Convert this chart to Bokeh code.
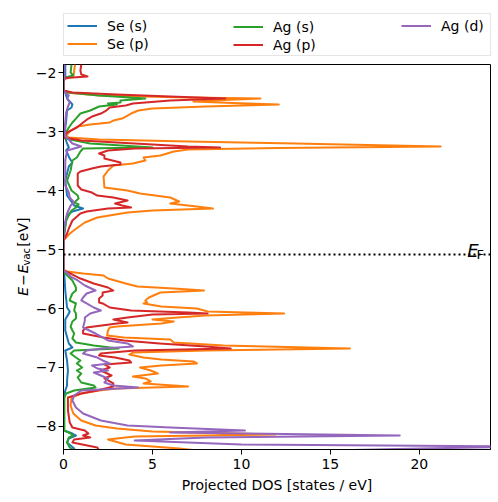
import math
from bokeh.plotting import figure
from bokeh.layouts import column, row
from bokeh.models import Range1d, Legend, LegendItem, Label, Span
from bokeh.embed import file_html
from bokeh.resources import INLINE

# ---- data: (energy [eV], projected DOS [states/eV]) ----
se_s = [(-1.864,0.1),(-2.102,0.1),(-2.136,0.0),(-2.305,0.0),(-2.339,0.1),(-2.441,0.2),(-2.508,0.4),
        (-2.542,0.5),(-2.593,0.45),(-2.644,0.2),(-2.814,0.15),(-3.068,0.05),(-3.203,0.2),(-3.271,0.3),
        (-3.322,0.15),(-3.458,0.35),(-3.525,0.5),(-3.593,0.3),(-3.831,0.1),(-4.085,0.2),(-4.169,0.4),
        (-4.254,0.6),(-4.305,1.1),(-4.356,0.5),(-4.424,0.2),(-4.593,0.1),(-4.763,0.02),(-4.847,0.0),
        (-5.356,0.0),(-5.441,0.05),(-5.695,0.1),(-5.983,0.2),(-6.051,0.35),(-6.085,0.3),(-6.186,0.1),
        (-6.373,0.1),(-6.593,0.3),(-6.661,0.5),(-6.712,0.1),(-6.881,0.2),(-7.051,0.25),(-7.220,0.2),
        (-7.305,0.2),(-7.390,0.1),(-7.508,0.03),(-8.068,0.02),(-8.119,0.5),(-8.153,0.7),(-8.203,0.3),
        (-8.271,0.2),(-8.373,0.6),(-8.407,0.5)]

se_p = [(-1.864,0.65),(-1.966,0.6),(-2.034,0.58),(-2.068,0.5),(-2.102,0.15),(-2.136,0),(-2.305,0),
        (-2.339,0.1),(-2.390,2.0),(-2.424,7.0),(-2.441,11.07),(-2.466,9.0),(-2.492,7.3),(-2.517,9.5),
        (-2.542,12.1),(-2.576,8.0),(-2.610,5.0),(-2.644,4.2),(-2.695,3.8),(-2.746,3.5),(-2.780,3.3),
        (-2.814,2.8),(-2.847,2.6),(-2.881,1.5),(-2.915,0.8),(-2.983,0.4),(-3.068,0.15),(-3.102,0.3),
        (-3.136,2.0),(-3.169,7.0),(-3.203,13.0),(-3.254,21.2),(-3.280,12.0),(-3.305,7.0),(-3.339,6.2),
        (-3.407,5.45),(-3.441,4.5),(-3.492,4.6),(-3.542,3.9),(-3.576,2.8),(-3.661,2.5),(-3.763,2.25),
        (-3.949,2.3),(-4.000,3.6),(-4.051,4.3),(-4.119,6.0),(-4.186,6.5),(-4.220,6.0),(-4.254,7.0),
        (-4.305,8.4),(-4.339,5.0),(-4.373,3.6),(-4.458,1.9),(-4.542,1.2),(-4.627,0.8),(-4.695,0.5),
        (-4.746,0.3),(-4.814,0.1),(-4.847,0),(-5.339,0),(-5.373,0.2),(-5.407,1.1),(-5.441,2.25),
        (-5.492,2.5),(-5.525,2.9),(-5.576,3.5),(-5.627,4.15),(-5.661,6.2),(-5.695,7.9),(-5.729,5.45),
        (-5.814,4.8),(-5.864,4.6),(-5.898,4.7),(-5.915,4.5),(-5.966,5.5),(-6.000,7.5),(-6.051,8.1),
        (-6.085,12.4),(-6.119,8.0),(-6.153,6.4),(-6.186,5.0),(-6.220,6.2),(-6.254,5.5),(-6.305,3.0),
        (-6.322,2.6),(-6.373,2.5),(-6.458,2.45),(-6.492,3.4),(-6.525,6.0),(-6.576,6.2),(-6.627,9.0),
        (-6.678,16.1),(-6.712,8.0),(-6.746,3.9),(-6.780,3.7),(-6.831,4.5),(-6.864,5.5),(-6.898,7.3),
        (-6.932,7.5),(-6.966,5.5),(-7.000,4.3),(-7.051,4.9),(-7.102,5.3),(-7.153,3.9),(-7.186,4.6),
        (-7.237,4.9),(-7.271,4.5),(-7.322,7.0),(-7.356,3.0),(-7.390,2.0),(-7.441,1.0),(-7.508,0.45),
        (-7.644,0.4),(-7.780,0.55),(-7.898,1.0),(-7.983,1.8),(-8.034,3.0),(-8.085,5.0),(-8.136,11.9),
        (-8.169,4.0),(-8.220,2.5),(-8.305,3.5),(-8.373,6.5),(-8.407,7.5)]

ag_s = [(-1.864,0.45),(-2.000,0.4),(-2.051,0.55),(-2.085,0.1),(-2.136,0),(-2.305,0),(-2.339,0.3),
        (-2.390,2.0),(-2.441,4.6),(-2.475,3.2),(-2.508,3.2),(-2.525,2.5),(-2.542,3.0),(-2.576,2.0),
        (-2.644,1.5),(-2.695,0.95),(-2.780,0.7),(-2.847,0.5),(-2.932,0.3),(-3.017,0.15),(-3.119,0.1),
        (-3.203,1.5),(-3.271,5.0),(-3.288,1.1),(-3.339,0.95),(-3.441,0.75),(-3.492,0.5),(-3.661,0.4),
        (-3.831,0.2),(-4.000,0.45),(-4.085,0.8),(-4.136,0.85),(-4.203,0.6),(-4.237,0.85),(-4.288,0.7),
        (-4.339,0.45),(-4.390,0.35),(-4.508,0.15),(-4.847,0),(-5.356,0),(-5.407,0.1),(-5.525,0.5),
        (-5.644,0.7),(-5.695,0.7),(-5.746,0.5),(-5.814,0.4),(-5.864,0.35),(-5.915,0.7),(-5.966,0.65),
        (-6.034,0.6),(-6.085,0.7),(-6.169,0.7),(-6.220,0.5),(-6.305,0.4),(-6.373,0.5),(-6.424,0.6),
        (-6.508,0.5),(-6.576,0.7),(-6.627,1.7),(-6.678,3.1),(-6.712,0.6),(-6.763,0.4),(-6.831,0.7),
        (-6.881,0.95),(-6.932,0.75),(-7.000,1.05),(-7.051,0.75),(-7.102,1.0),(-7.169,0.8),(-7.254,1.0),
        (-7.305,1.7),(-7.339,1.8),(-7.390,0.6),(-7.441,0.15),(-7.508,0.05),(-8.068,0.05),(-8.119,0.4),
        (-8.153,0.55),(-8.186,0.3),(-8.271,0.2),(-8.356,0.35),(-8.407,0.6)]

ag_p = [(-1.864,1.0),(-1.966,0.95),(-2.034,1.0),(-2.068,1.35),(-2.093,0.1),(-2.136,0),(-2.305,0),
        (-2.339,0.5),(-2.373,3.0),(-2.407,6.0),(-2.441,9.1),(-2.475,6.0),(-2.525,3.9),(-2.559,3.5),
        (-2.593,2.6),(-2.644,2.4),(-2.695,2.1),(-2.746,1.6),(-2.780,1.4),(-2.847,1.1),(-2.932,0.75),
        (-3.017,0.2),(-3.102,0.05),(-3.153,1.0),(-3.203,4.0),(-3.254,7.0),(-3.271,8.8),(-3.288,4.0),
        (-3.322,2.5),(-3.373,2.0),(-3.407,2.3),(-3.458,2.3),(-3.525,3.2),(-3.559,3.2),(-3.593,2.1),
        (-3.627,1.6),(-3.678,0.95),(-3.712,0.8),(-3.915,0.8),(-3.983,1.0),(-4.034,1.6),(-4.085,1.9),
        (-4.119,2.8),(-4.169,3.6),(-4.220,2.9),(-4.254,3.3),(-4.288,3.8),(-4.305,2.5),(-4.356,1.3),
        (-4.390,0.95),(-4.508,0.5),(-4.644,0.3),(-4.729,0.2),(-4.847,0),(-5.356,0),(-5.407,0.4),
        (-5.492,0.95),(-5.576,1.7),(-5.644,2.5),(-5.695,2.8),(-5.729,2.2),(-5.780,2.2),(-5.831,2.0),
        (-5.898,2.0),(-5.915,2.2),(-5.983,2.6),(-6.034,3.8),(-6.068,7.0),(-6.085,8.1),(-6.102,5.0),
        (-6.153,3.6),(-6.186,2.8),(-6.237,3.6),(-6.254,3.0),(-6.322,1.3),(-6.373,1.1),(-6.424,1.1),
        (-6.492,2.25),(-6.542,3.4),(-6.593,5.4),(-6.644,8.0),(-6.678,9.4),(-6.712,4.0),(-6.763,2.1),
        (-6.797,2.0),(-6.831,2.9),(-6.881,3.7),(-6.915,3.8),(-6.949,2.3),(-7.000,2.6),(-7.051,2.1),
        (-7.136,2.7),(-7.186,2.3),(-7.271,2.8),(-7.322,2.8),(-7.390,1.9),(-7.441,1.0),(-7.508,0.25),
        (-7.729,0.25),(-7.932,0.35),(-8.017,0.5),(-8.068,1.2),(-8.119,1.4),(-8.153,1.1),(-8.186,1.5),
        (-8.220,0.6),(-8.271,0.5),(-8.356,1.9),(-8.407,2.0)]

ag_d = [(-1.864,0.05),(-2.102,0.05),(-2.136,0),(-2.305,0),(-2.339,0.1),(-2.390,0.3),(-2.441,0.2),
        (-2.508,0.35),(-2.576,0.25),(-2.678,0.15),(-2.898,0.08),(-3.085,0.1),(-3.136,0.3),(-3.203,0.5),
        (-3.254,1.0),(-3.288,0.6),(-3.322,0.2),(-3.492,0.1),(-3.915,0.1),(-4.034,0.3),(-4.119,0.35),
        (-4.203,0.6),(-4.254,0.4),(-4.322,0.3),(-4.390,0.2),(-4.593,0.05),(-4.847,0),(-5.356,0),
        (-5.373,0.1),(-5.458,0.4),(-5.525,0.8),(-5.610,1.2),(-5.695,1.8),(-5.746,1.3),(-5.814,1.1),
        (-5.864,1.0),(-5.915,1.3),(-5.983,1.7),(-6.034,2.1),(-6.085,1.5),(-6.153,1.2),(-6.203,1.2),
        (-6.322,1.1),(-6.424,1.8),(-6.542,2.5),(-6.593,3.6),(-6.644,3.9),(-6.678,2.2),(-6.712,1.3),
        (-6.763,1.1),(-6.831,1.9),(-6.881,2.2),(-6.932,2.6),(-6.966,1.6),(-7.017,1.9),(-7.051,2.5),
        (-7.085,1.7),(-7.136,2.1),(-7.186,2.5),(-7.254,2.3),(-7.305,2.8),(-7.339,4.2),(-7.390,1.0),
        (-7.475,0.6),(-7.559,0.5),(-7.678,0.7),(-7.780,1.1),(-7.898,2.1),(-7.983,3.6),(-8.017,6.0),
        (-8.068,10.2),(-8.102,6.0),(-8.153,18.9),(-8.186,8.0),(-8.237,4.0),(-8.305,10.0),(-8.339,26.0),
        (-8.373,20.0),(-8.407,15.0)]

series = [("Se (s)", se_s, "#1f77b4"), ("Se (p)", se_p, "#ff7f0e"),
          ("Ag (s)", ag_s, "#2ca02c"), ("Ag (p)", ag_p, "#d62728"),
          ("Ag (d)", ag_d, "#9467bd")]

E_F = -5.085
x_ticks = [0, 5, 10, 15, 20]
y_ticks = [-8, -7, -6, -5, -4, -3, -2]

FONT = "DejaVu Sans"
NAN = float("nan")

# ---------------- main plot ----------------
p = figure(frame_width=427, frame_height=385,
           min_border_left=29, min_border_right=8, min_border_top=4, min_border_bottom=49,
           x_range=Range1d(0, 24), y_range=Range1d(-8.39, -1.864),
           output_backend="svg", toolbar_location=None)
p.grid.visible = False
p.outline_line_color = "black"
p.outline_line_alpha = 1
p.outline_line_width = 1

for ax in (p.xaxis[0], p.yaxis[0]):
    ax.axis_line_color = "black"
    ax.major_tick_line_color = "black"
    ax.major_tick_out = 5
    ax.major_tick_in = 0
    ax.minor_tick_line_color = None
    ax.major_label_text_font = FONT
    ax.major_label_text_font_size = "14px"
    ax.major_label_text_color = "black"
    ax.axis_label_text_font = FONT
    ax.axis_label_text_font_size = "14px"
    ax.axis_label_text_font_style = "normal"
    ax.axis_label_text_color = "black"

p.xaxis.ticker = x_ticks
p.yaxis.ticker = y_ticks
p.yaxis.major_label_overrides = {t: ("\u2212%d" % abs(t)) if t < 0 else str(t) for t in y_ticks}
p.xaxis.axis_label = "Projected DOS [states / eV]"
p.xaxis.major_label_standoff = 4
p.xaxis.axis_label_standoff = 5
p.yaxis.major_label_standoff = 2

for name, data, color in series:
    e = [d[0] for d in data]
    dos = [d[1] for d in data]
    p.line(x=dos, y=e, line_color=color, line_width=2, line_join="round")

p.add_layout(Span(location=E_F, dimension="width", line_color="black",
                  line_width=2, line_dash="2 3"))

# E_F label
p.add_layout(Label(x=403.7, y=199, x_units="screen", y_units="screen", text="E",
                   text_font=FONT, text_font_size="18px", text_font_style="italic",
                   text_color="black", text_baseline="alphabetic", text_align="left"))
p.add_layout(Label(x=413, y=195.5, x_units="screen", y_units="screen", text="F",
                   text_font=FONT, text_font_size="13px", text_color="black",
                   text_baseline="alphabetic", text_align="left"))

# ---------------- legend strip (above) ----------------
lg = figure(width=498, height=60, min_border=0, x_range=Range1d(0, 498), y_range=Range1d(0, 60),
            x_axis_type=None, y_axis_type=None, output_backend="svg", toolbar_location=None)
lg.grid.visible = False
lg.outline_line_color = None
dummies = [lg.line(x=[NAN], y=[NAN], line_color=c, line_width=2) for _, _, c in series]

common = dict(orientation="vertical", glyph_width=30, glyph_height=17, label_height=17,
              label_standoff=10, padding=3, spacing=1, margin=0,
              label_text_font=FONT, label_text_font_size="14px", label_text_color="black")
leg_a = Legend(items=[LegendItem(label=series[0][0], renderers=[dummies[0]]),
                      LegendItem(label=series[1][0], renderers=[dummies[1]])],
               location=(63, 4), label_width=380, border_line_color="#cccccc",
               background_fill_color="white", background_fill_alpha=0.8, **common)
leg_b = Legend(items=[LegendItem(label=series[2][0], renderers=[dummies[2]]),
                      LegendItem(label=series[3][0], renderers=[dummies[3]])],
               location=(230, 4), border_line_alpha=0, background_fill_alpha=0, **common)
leg_c = Legend(items=[LegendItem(label=series[4][0], renderers=[dummies[4]])],
               location=(398, 23), border_line_alpha=0, background_fill_alpha=0, **common)
for l in (leg_a, leg_b, leg_c):
    lg.add_layout(l)

# ---------------- y-axis label strip (left) ----------------
yl = figure(width=32, height=438, min_border=0, x_range=Range1d(0, 32), y_range=Range1d(0, 438),
            x_axis_type=None, y_axis_type=None, output_backend="svg", toolbar_location=None)
yl.grid.visible = False
yl.outline_line_color = None
pieces = [("E", 22, 175.0, "14px", "italic"),
          ("\u2212", 22, 186.4, "14px", "normal"),
          ("E", 22, 200.6, "14px", "italic"),
          ("vac", 25.5, 209.4, "10px", "normal"),
          ("[eV]", 22, 230.8, "14px", "normal")]
for txt, xx, yy, fs, st in pieces:
    yl.add_layout(Label(x=xx, y=yy, text=txt, angle=math.pi / 2, text_font=FONT,
                        text_font_size=fs, text_font_style=st, text_color="black",
                        text_baseline="alphabetic", text_align="left"))

layout = column(lg, row(yl, p, spacing=0), spacing=0)
open("out.html", "w").write(file_html(layout, INLINE))
